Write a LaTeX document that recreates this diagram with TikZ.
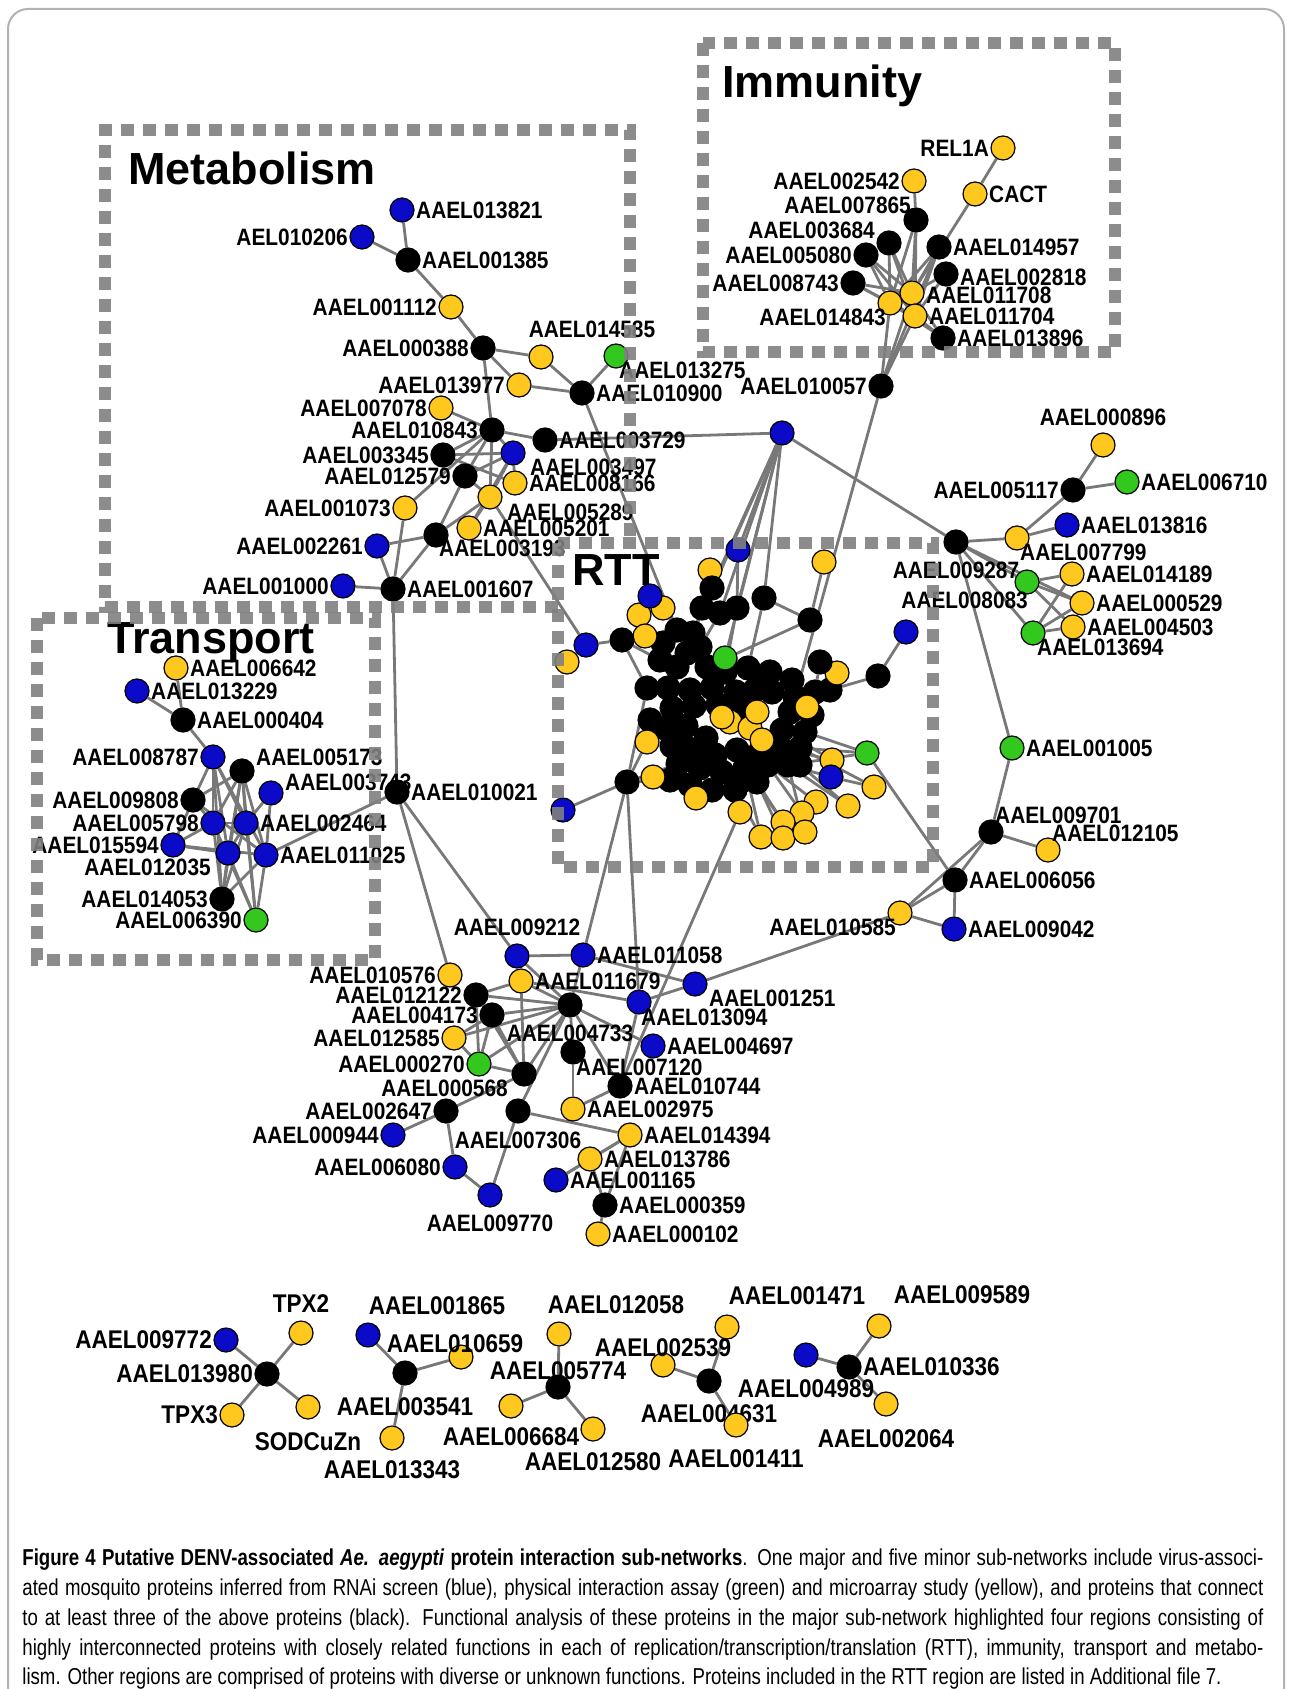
\documentclass[tikz,border=0pt]{standalone}
\usepackage{fontspec}
\setmainfont{Liberation Sans}
\newfontfamily\lblfont{Liberation Sans}[FakeStretch=0.88]
\newfontfamily\capfont{Liberation Sans}[FakeStretch=0.81]
\definecolor{nblue}{RGB}{10,10,200}
\definecolor{nyel}{RGB}{255,200,30}
\definecolor{ngrn}{RGB}{50,200,30}
\definecolor{egray}{RGB}{120,120,120}
\definecolor{bgray}{RGB}{128,128,128}
\pgfdeclarelayer{bg}
\pgfdeclarelayer{fg}
\pgfsetlayers{bg,main,fg}
\begin{document}
\begin{tikzpicture}[x=0.5pt,y=-0.5pt,
 nd/.style={circle,draw=black,line width=0.6pt,minimum size=12pt,inner sep=0pt},
 bn/.style={nd,fill=nblue}, yn/.style={nd,fill=nyel}, gn/.style={nd,fill=ngrn}, kn/.style={nd,fill=black},
 lb/.style={font=\lblfont\bfseries\fontsize{11.85pt}{12pt}\selectfont,inner sep=0.6pt,text=black},
 lbb/.style={font=\lblfont\bfseries\fontsize{12.8pt}{13pt}\selectfont,inner sep=0.6pt,text=black},
 lnk/.style={draw=egray,line width=1.4pt},
 regbox/.style={draw=bgray,line width=6pt,dash pattern=on 6.5pt off 4.5pt,opacity=0.9},
 ttl/.style={font=\bfseries\fontsize{22.5pt}{24pt}\selectfont,anchor=base west,inner sep=0pt},
 capl/.style={anchor=base west,inner sep=0pt,font=\capfont\fontsize{11.5pt}{13pt}\selectfont}]
\useasboundingbox (0,0) rectangle (1292,1689);
\begin{pgfonlayer}{bg}
\draw[black!30,line width=1pt,rounded corners=10pt] (8,9) rectangle (1284,1760);
\end{pgfonlayer}

% titles
\node[ttl] (tmeta) at (128,185) {Metabolism};
\node[ttl] (timm) at (722,98) {Immunity};
\node[ttl] (ttrans) at (107,653) {Transport};
\node[ttl] (trtt) at (572,585) {RTT};

% Metabolism
\node[bn,label={[lb]right:AAEL013821}] (a013821) at (402,210) {};
\node[bn,label={[lb]left:AEL010206}] (a010206) at (362,237) {};
\node[kn,label={[lb]right:AAEL001385}] (a001385) at (408,260) {};
\node[yn,label={[lb]left:AAEL001112}] (a001112) at (451,307) {};
\node[kn,label={[lb]left:AAEL000388}] (a000388) at (483,348) {};
\node[yn,label={[lb,xshift=25.5pt,yshift=2.5pt]above:AAEL014585}] (a014585) at (541,357) {};
\node[yn,label={[lb]left:AAEL013977}] (a013977) at (519,385) {};
\node[gn,label={[lb,xshift=-5.5pt,yshift=-7pt]right:AAEL013275}] (a013275) at (616,356) {};
\node[kn,label={[lb]right:AAEL010900}] (a010900) at (582,393) {};
\node[yn,label={[lb]left:AAEL007078}] (a007078) at (441,408) {};
\node[kn,label={[lb]left:AAEL010843}] (a010843) at (492,430) {};
\node[kn,label={[lb]right:AAEL003729}] (a003729) at (545,440) {};
\node[bn,label={[lb,xshift=1.5pt,yshift=-7pt]right:AAEL003497}] (a003497) at (513,453) {};
\node[yn,label={[lb]right:AAEL008166}] (a008166) at (515,483) {};
\node[kn,label={[lb]left:AAEL003345}] (a003345) at (443,455) {};
\node[kn,label={[lb]left:AAEL012579}] (a012579) at (465,476) {};
\node[yn,label={[lb,xshift=1.5pt,yshift=-7.5pt]right:AAEL005289}] (a005289) at (490,497) {};
\node[yn,label={[lb]left:AAEL001073}] (a001073) at (405,508) {};
\node[yn,label={[lb]right:AAEL005201}] (a005201) at (469,528) {};
\node[kn,label={[lb,xshift=-5.5pt,yshift=-6.5pt]right:AAEL003193}] (a003193) at (436,535) {};
\node[bn,label={[lb]left:AAEL002261}] (a002261) at (377,546) {};
\node[kn,label={[lb]right:AAEL001607}] (a001607) at (393,589) {};
\node[bn,label={[lb]left:AAEL001000}] (a001000) at (343,586) {};
\node[kn,label={[lb]right:AAEL010021}] (a010021) at (397,792) {};
\node[bn] (hub) at (782,433) {};

% Immunity
\node[yn,label={[lb]left:REL1A}] (rel1a) at (1003,148) {};
\node[yn,label={[lb]left:AAEL002542}] (a002542) at (914,181) {};
\node[yn,label={[lb]right:CACT}] (cact) at (975,194) {};
\node[kn,label={[lb,xshift=4.5pt,yshift=7.5pt]left:AAEL007865}] (a007865) at (916,220) {};
\node[kn,label={[lb,yshift=6.5pt]left:AAEL003684}] (a003684) at (889,243) {};
\node[kn,label={[lb]left:AAEL005080}] (a005080) at (866,255) {};
\node[kn,label={[lb]right:AAEL014957}] (a014957) at (939,247) {};
\node[kn,label={[lb,yshift=-1.5pt]right:AAEL002818}] (a002818) at (946,274) {};
\node[kn,label={[lb]left:AAEL008743}] (a008743) at (853,283) {};
\node[yn,label={[lb,xshift=5pt,yshift=-7pt]left:AAEL014843}] (a014843) at (890,303) {};
\node[yn,label={[lb,yshift=-1pt]right:AAEL011708}] (a011708) at (912,293) {};
\node[yn,label={[lb]right:AAEL011704}] (a011704) at (915,316) {};
\node[kn,label={[lb]right:AAEL013896}] (a013896) at (943,338) {};
\node[kn,label={[lb]left:AAEL010057}] (a010057) at (881,386) {};

% right cluster
\node[yn,label={[lb,yshift=2.5pt]above:AAEL000896}] (a000896) at (1103,445) {};
\node[kn,label={[lb]left:AAEL005117}] (a005117) at (1073,490) {};
\node[gn,label={[lb]right:AAEL006710}] (a006710) at (1127,482) {};
\node[bn,label={[lb]right:AAEL013816}] (a013816) at (1067,525) {};
\node[yn,label={[lb,xshift=-5.5pt,yshift=-7pt]right:AAEL007799}] (a007799) at (1017,538) {};
\node[kn,label={[lb,yshift=-3pt]below:AAEL009287}] (a009287) at (956,542) {};
\node[gn,label={[lb,xshift=7.5pt,yshift=-9pt]left:AAEL008083}] (a008083) at (1027,582) {};
\node[yn,label={[lb]right:AAEL014189}] (a014189) at (1072,574) {};
\node[yn,label={[lb]right:AAEL000529}] (a000529) at (1082,603) {};
\node[yn,label={[lb]right:AAEL004503}] (a004503) at (1073,627) {};
\node[gn,label={[lb,xshift=-5pt,yshift=-7pt]right:AAEL013694}] (a013694) at (1033,633) {};
\node[gn,label={[lb]right:AAEL001005}] (a001005) at (1012,748) {};
\node[kn,label={[lb,xshift=-5pt,yshift=8.5pt]right:AAEL009701}] (a009701) at (991,832) {};
\node[yn,label={[lb,xshift=-5pt,yshift=8.5pt]right:AAEL012105}] (a012105) at (1048,850) {};
\node[kn,label={[lb]right:AAEL006056}] (a006056) at (955,880) {};
\node[bn,label={[lb]right:AAEL009042}] (a009042) at (954,929) {};
\node[yn,label={[lb,xshift=5pt,yshift=-7pt]left:AAEL010585}] (a010585) at (900,913) {};

% Transport
\node[yn,label={[lb]right:AAEL006642}] (a006642) at (176,668) {};
\node[bn,label={[lb]right:AAEL013229}] (a013229) at (137,691) {};
\node[kn,label={[lb]right:AAEL000404}] (a000404) at (183,720) {};
\node[bn,label={[lb]left:AAEL008787}] (a008787) at (213,757) {};
\node[kn,label={[lb,yshift=7pt]right:AAEL005173}] (a005173) at (242,771) {};
\node[bn,label={[lb,yshift=5.5pt]right:AAEL003743}] (a003743) at (271,793) {};
\node[kn,label={[lb]left:AAEL009808}] (a009808) at (193,800) {};
\node[bn,label={[lb]left:AAEL005798}] (a005798) at (213,823) {};
\node[bn,label={[lb]right:AAEL002464}] (a002464) at (246,823) {};
\node[bn,label={[lb]left:AAEL015594}] (a015594) at (173,845) {};
\node[bn,label={[lb,xshift=-1.5pt,yshift=-7pt]left:AAEL012035}] (a012035) at (228,853) {};
\node[bn,label={[lb]right:AAEL011025}] (a011025) at (266,855) {};
\node[kn,label={[lb]left:AAEL014053}] (a014053) at (222,899) {};
\node[gn,label={[lb]left:AAEL006390}] (a006390) at (256,920) {};

% bottom cluster
\node[bn,label={[lb,yshift=3pt]above:AAEL009212}] (a009212) at (517,956) {};
\node[bn,label={[lb]right:AAEL011058}] (a011058) at (583,955) {};
\node[yn,label={[lb]left:AAEL010576}] (a010576) at (450,975) {};
\node[yn,label={[lb]right:AAEL011679}] (a011679) at (521,981) {};
\node[kn,label={[lb]left:AAEL012122}] (a012122) at (476,995) {};
\node[bn,label={[lb,yshift=-7pt]right:AAEL001251}] (a001251) at (695,984) {};
\node[bn,label={[lb,xshift=-6pt,yshift=-7.5pt]right:AAEL013094}] (a013094) at (639,1002) {};
\node[kn,label={[lb]left:AAEL004173}] (a004173) at (492,1015) {};
\node[kn,label={[lb,yshift=-3pt]below:AAEL004733}] (a004733) at (570,1005) {};
\node[bn,label={[lb]right:AAEL004697}] (a004697) at (653,1046) {};
\node[yn,label={[lb]left:AAEL012585}] (a012585) at (454,1038) {};
\node[gn,label={[lb]left:AAEL000270}] (a000270) at (479,1064) {};
\node[kn,label={[lb,xshift=-1pt,yshift=-7pt]left:AAEL000568}] (a000568) at (524,1074) {};
\node[kn,label={[lb,xshift=-5.5pt,yshift=-7.5pt]right:AAEL007120}] (a007120) at (573,1052) {};
\node[kn,label={[lb]right:AAEL010744}] (a010744) at (620,1086) {};
\node[kn,label={[lb]left:AAEL002647}] (a002647) at (446,1111) {};
\node[kn,label={[lb,yshift=-3.5pt]below:AAEL007306}] (a007306) at (518,1111) {};
\node[yn,label={[lb]right:AAEL002975}] (a002975) at (573,1109) {};
\node[bn,label={[lb]left:AAEL000944}] (a000944) at (393,1135) {};
\node[yn,label={[lb]right:AAEL014394}] (a014394) at (630,1135) {};
\node[yn,label={[lb]right:AAEL013786}] (a013786) at (590,1159) {};
\node[bn,label={[lb]left:AAEL006080}] (a006080) at (455,1167) {};
\node[bn,label={[lb]right:AAEL001165}] (a001165) at (556,1180) {};
\node[bn,label={[lb,yshift=-3pt]below:AAEL009770}] (a009770) at (490,1195) {};
\node[kn,label={[lb]right:AAEL000359}] (a000359) at (605,1205) {};
\node[yn,label={[lb]right:AAEL000102}] (a000102) at (598,1234) {};

% small networks
\node[yn,label={[lbb,yshift=3pt]above:TPX2}] (tpx2) at (301,1333) {};
\node[bn,label={[lbb]left:AAEL009772}] (a009772) at (226,1340) {};
\node[kn,label={[lbb]left:AAEL013980}] (a013980) at (267,1374) {};
\node[yn,label={[lbb]left:TPX3}] (tpx3) at (232,1415) {};
\node[yn,label={[lbb,yshift=-5.5pt]below:SODCuZn}] (sod) at (308,1407) {};
\node[bn,label={[lbb,xshift=34.5pt,yshift=3pt]above:AAEL001865}] (a001865) at (368,1335) {};
\node[yn,label={[lbb,xshift=-3pt,yshift=-5pt]above:AAEL010659}] (a010659) at (461,1357) {};
\node[kn,label={[lbb,yshift=-5pt]below:AAEL003541}] (a003541) at (405,1373) {};
\node[yn,label={[lbb,yshift=-4pt]below:AAEL013343}] (a013343) at (392,1438) {};
\node[yn,label={[lbb,xshift=28.5pt,yshift=3pt]above:AAEL012058}] (a012058) at (559,1334) {};
\node[kn,label={[lbb,yshift=-3.5pt]above:AAEL005774}] (a005774) at (558,1387) {};
\node[yn,label={[lbb,yshift=-3.5pt]below:AAEL006684}] (a006684) at (511,1406) {};
\node[yn,label={[lbb,yshift=-4.5pt]below:AAEL012580}] (a012580) at (593,1429) {};
\node[yn,label={[lbb,xshift=35pt,yshift=4pt]above:AAEL001471}] (a001471) at (727,1327) {};
\node[yn,label={[lbb,yshift=-3pt]above:AAEL002539}] (a002539) at (663,1365) {};
\node[kn,label={[lbb,yshift=-4.5pt]below:AAEL004631}] (a004631) at (709,1381) {};
\node[yn,label={[lbb,yshift=-5pt]below:AAEL001411}] (a001411) at (736,1425) {};
\node[yn,label={[lbb,xshift=41.5pt,yshift=4pt]above:AAEL009589}] (a009589) at (879,1326) {};
\node[bn,label={[lbb,yshift=-5pt]below:AAEL004989}] (a004989) at (806,1355) {};
\node[kn,label={[lbb]right:AAEL010336}] (a010336) at (849,1367) {};
\node[yn,label={[lbb,yshift=-5.5pt]below:AAEL002064}] (a002064) at (886,1404) {};

% RTT blob
\foreach \px/\py [count=\i] in {663/643,677/630,693/633,700/647,687/653,660/660,677/667,707/667,725/672,748/668,770/672,792/680,668/688,690/690,712/688,772/692,795/697,815/692,672/708,694/706,790/712,812/715,665/728,686/726,706/738,782/730,805/732,672/746,692/750,715/755,737/750,760/752,780/748,800/748,678/764,700/768,722/772,745/768,768/765,788/765,670/780,690/785,712/790,735/790,757/782,830/690,736/692,755/690,718/705,740/706,650/720,740/782,725/660,760/680,800/765,681/742}
  \node[kn] (b\i) at (\px,\py) {};
\foreach \px/\py [count=\i] in {730/722,750/728,762/740,757/712,722/717}
  \node[yn] (y\i) at (\px,\py) {};
\node[bn] (r1) at (738,550) {};
\node[yn] (r2) at (824,562) {};
\node[yn] (r3) at (710,570) {};
\node[kn] (r4) at (712,588) {};
\node[kn] (r5) at (764,598) {};
\node[kn] (r6) at (702,608) {};
\node[kn] (r7) at (720,613) {};
\node[kn] (r8) at (737,608) {};
\node[yn] (r10) at (663,608) {};
\node[yn] (r11) at (639,615) {};
\node[yn] (r12) at (645,636) {};
\node[bn] (r9) at (650,596) {};
\node[kn] (r13) at (810,620) {};
\node[bn] (r14) at (906,632) {};
\node[yn] (r16) at (567,662) {};
\node[bn] (r15) at (586,645) {};
\node[kn] (r17) at (622,640) {};
\node[gn] (r18) at (725,658) {};
\node[kn] (r19) at (878,676) {};
\node[yn] (r21) at (837,673) {};
\node[kn] (r20) at (820,662) {};
\node[kn] (r22) at (647,688) {};
\node[yn] (r23) at (807,707) {};
\node[yn] (r24) at (647,742) {};
\node[kn] (r25) at (627,782) {};
\node[bn] (r26) at (563,810) {};
\node[yn] (r27) at (653,777) {};
\node[gn] (r28) at (867,753) {};
\node[yn] (r29) at (832,760) {};
\node[bn] (r30) at (831,777) {};
\node[yn] (r31) at (874,787) {};
\node[yn] (r32) at (848,806) {};
\node[yn] (r33) at (740,812) {};
\node[yn] (r34) at (816,802) {};
\node[yn] (r35) at (802,813) {};
\node[yn] (r36) at (783,822) {};
\node[yn] (r37) at (761,837) {};
\node[yn] (r38) at (783,838) {};
\node[yn] (r39) at (805,832) {};
\node[yn] (r40) at (696,798) {};

% edges
\begin{pgfonlayer}{bg}
\foreach \u/\v in {a013821/a001385,a010206/a001385,a001385/a001112,a001112/a000388,a000388/a014585,a000388/a013977,a000388/a010843,a014585/a010900,a013977/a010900,a013275/a010900,a010900/b2,a007078/a010843,a010843/a003729,a003729/hub,a010843/a003497,a010843/a012579,a010843/a005289,a010843/a003345,a003345/a003497,a003345/a008166,a012579/a003497,a012579/a005289,a012579/a003193,a003497/a005289,a003497/a005201,a003497/a008166,a005289/a005201,a005289/a003193,a001073/a010843,a001073/a001607,a003193/a002261,a003193/a001607,a002261/a001607,a001000/a001607,a001607/a010021,a005289/r15}
  \draw[lnk] (\u) -- (\v);
\foreach \u/\v in {rel1a/cact,cact/a011708,a002542/a007865,a007865/a011708,a007865/a014843,a007865/a011704,a003684/a011708,a003684/a014843,a003684/a011704,a005080/a011708,a005080/a014843,a005080/a011704,a008743/a011708,a008743/a014843,a008743/a011704,a014957/a011708,a014957/a014843,a014957/a011704,a002818/a011708,a002818/a011704,a013896/a011708,a013896/a011704,a013896/a014843,a010057/a011708,a010057/a014843,a010057/a011704,a010057/a014957,a010057/b17}
  \draw[lnk] (\u) -- (\v);
\foreach \u/\v in {a000896/a005117,a005117/a006710,a005117/a007799,a007799/a013816,a007799/a009287,a009287/hub,a009287/a008083,a009287/a000529,a009287/a013694,a009287/a001005,a008083/a014189,a008083/a000529,a008083/a004503,a013694/a014189,a013694/a000529,a013694/a004503,a001005/a009701,a009701/a012105,a009701/a006056,a006056/a009042,a006056/a010585,a010585/a009042,a010585/a009701}
  \draw[lnk] (\u) -- (\v);
\foreach \u/\v in {a006642/a000404,a013229/a000404,a000404/a008787,a008787/a009808,a008787/a005798,a008787/a012035,a008787/a002464,a008787/a011025,a008787/a014053,a005173/a009808,a005173/a005798,a005173/a002464,a005173/a012035,a005173/a011025,a005173/a006390,a005173/a014053,a003743/a011025,a003743/a002464,a009808/a005798,a009808/a015594,a009808/a011025,a005798/a015594,a005798/a014053,a005798/a006390,a005798/a002464,a002464/a012035,a002464/a014053,a002464/a006390,a015594/a011025,a015594/a012035,a012035/a014053,a012035/a006390,a011025/a014053,a011025/a006390,a011025/a010021}
  \draw[lnk] (\u) -- (\v);
\foreach \u/\v in {a010021/a010576,a010021/a009212,a009212/a011058,a009212/a004733,a011058/a004733,a011058/a001251,a011058/r25,a011679/a004733,a011679/a012122,a011679/a000568,a011679/a013094,a012122/a004733,a012122/a004173,a012122/a000270,a012122/a000568,a004173/a004733,a004173/a000270,a004173/a000568,a004173/a012585,a012585/a004733,a012585/a000270,a000270/a004733,a000270/a000568,a004733/a000568,a004733/a004697,a004733/a007306,a004733/a010744,a013094/a001251,a013094/a010744,a013094/r25,a010744/r33,a007120/a002975,a007120/a004733,a002975/a010744,a007306/a009770,a007306/a014394,a000568/a002647,a002647/a000944,a002647/a006080,a006080/a009770,a014394/a013786,a014394/a001165,a014394/a000359,a013786/a001165,a013786/a000359,a000359/a000102,a001251/a010585}
  \draw[lnk] (\u) -- (\v);
\foreach \u/\v in {hub/r1,hub/r4,hub/r6,hub/r7,hub/r8,hub/r5,hub/r18,hub/b3,r3/r4,r9/r10,r9/r11,r11/r12,r12/b1,r10/b2,r15/r16,r15/r17,r17/b6,r17/r22,r22/b13,r22/r25,r25/r24,r25/r26,r25/r27,r25/b41,r25/b35,r13/r2,r13/r5,r13/b8,r5/b10,r19/r14,r19/b46,r20/r21,r20/b18,r28/b34,r28/b27,r28/b40,r28/a006056,r29/b33,r30/r31,r30/b40,r32/b40,r33/b44,r34/b39,r35/b39,r36/b38,r37/b38,r38/b45,r39/b40,r40/b42,r23/b22,r18/b5,r6/b3,r8/b9,r7/b4,r1/r8,r32/b33,r31/b34,r24/b28,r27/b35,r21/b46,r36/b45,r37/b44,r29/b26}
  \draw[lnk] (\u) -- (\v);
\foreach \u/\v in {a013980/a009772,a013980/tpx2,a013980/tpx3,a013980/sod,a003541/a001865,a003541/a010659,a003541/a013343,a005774/a012058,a005774/a006684,a005774/a012580,a004631/a001471,a004631/a002539,a004631/a001411,a010336/a004989,a010336/a009589,a010336/a002064}
  \draw[lnk] (\u) -- (\v);
\end{pgfonlayer}

% region boxes
\begin{pgfonlayer}{fg}
\draw[regbox] (558,607) -- (105,607) -- (105,130) -- (630,130) -- (630,543);
\draw[regbox] (703,43) rectangle (1115,352);
\draw[regbox] (37,618) rectangle (375,960);
\draw[regbox] (558,543) rectangle (933,867);
\end{pgfonlayer}

% caption
\node[capl] (cap1) at (22,1565) {\hbox to 620.5pt{\textbf{Figure 4 Putative DENV-associated \textit{Ae. aegypti} protein interaction sub-networks}. One major and five minor sub-networks include virus-associ-}};
\node[capl] (cap2) at (22,1595) {\hbox to 620.5pt{ated mosquito proteins inferred from RNAi screen (blue), physical interaction assay (green) and microarray study (yellow), and proteins that connect}};
\node[capl] (cap3) at (22,1625) {\hbox to 620.5pt{to at least three of the above proteins (black). Functional analysis of these proteins in the major sub-network highlighted four regions consisting of}};
\node[capl] (cap4) at (22,1655) {\hbox to 620.5pt{highly interconnected proteins with closely related functions in each of replication/transcription/translation (RTT), immunity, transport and metabo-}};
\node[capl] (cap5) at (22,1684) {\hbox to 620.5pt{lism. Other regions are comprised of proteins with diverse or unknown functions. Proteins included in the RTT region are listed in Additional file 7.\hfil}};
\end{tikzpicture}
\end{document}
